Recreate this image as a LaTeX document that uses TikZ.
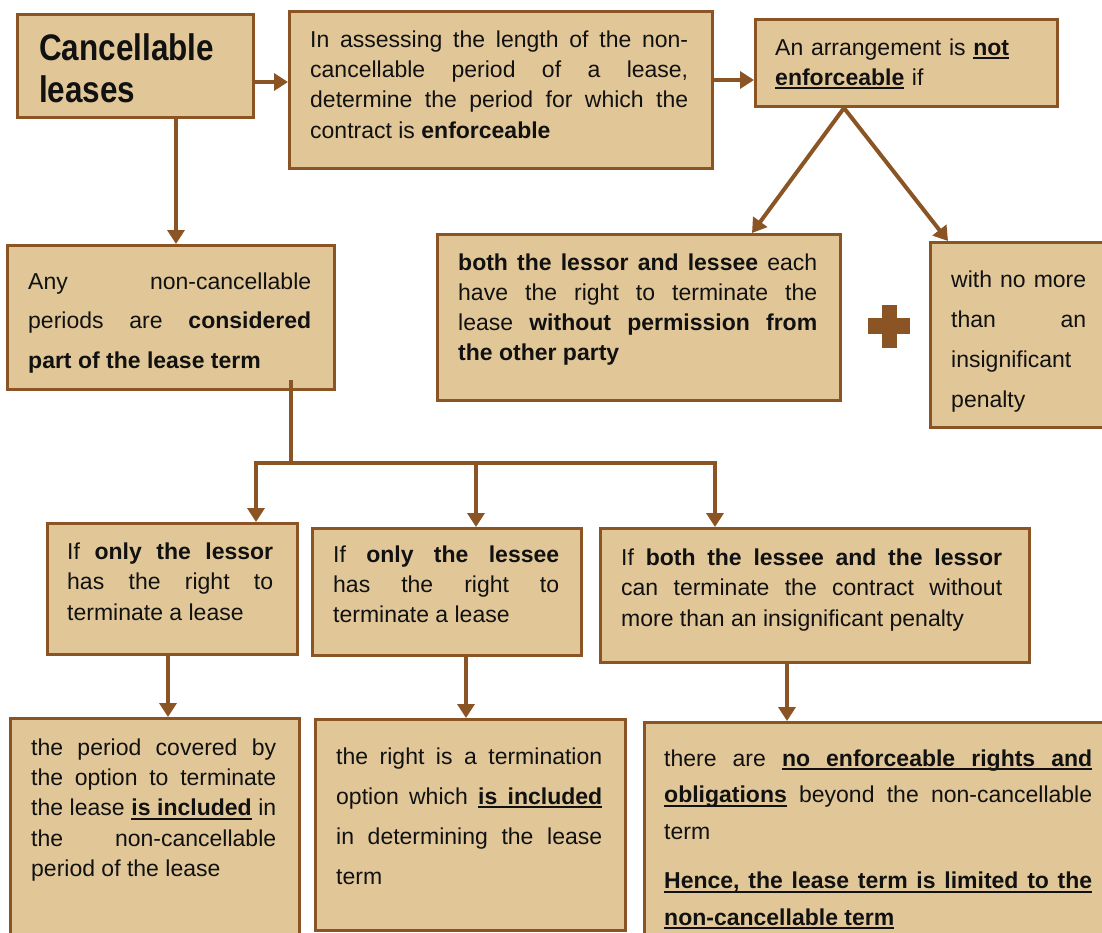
\documentclass[tikz,border=0pt]{standalone}
\usepackage{fontspec}
\setmainfont{Liberation Sans}
\newfontfamily\titlefont{Liberation Sans}[FakeStretch=0.85]
\usetikzlibrary{arrows.meta}

\definecolor{tan}{HTML}{E1C797}
\definecolor{brown}{HTML}{8B5424}
\definecolor{ink}{HTML}{111111}

% underlined word, and an underlined stretchable interword space
\newcommand\ulw[1]{\leavevmode\setbox0\hbox{#1}\rlap{\rule[-4pt]{\wd0}{1.8pt}}\box0}
\newcommand\ulsp{\nobreak\leaders\hrule height -2.2pt depth 4pt\hskip\fontdimen2\font plus\fontdimen3\font minus\fontdimen4\font\relax}

\tikzset{
  leasebox/.style={draw=brown, fill=tan, line width=3pt, inner sep=0pt, anchor=north west},
  conn/.style={draw=brown, line width=4pt, -{Triangle[width=17pt,length=14pt]}},
  link/.style={draw=brown, line width=4pt},
  txt/.style={anchor=north west, inner sep=0pt, text=ink}
}

% name, left, first baseline, width, baselineskip, text
\newcommand\boxtext[6]{%
  \node[txt, align=justify, text width=#4pt, font=\fontsize{23}{#5}\selectfont]
    (#1) at (#2,{#3-0.7*#5}) {\strut #6};}

\begin{document}
\hyphenpenalty=10000 \exhyphenpenalty=10000 \tolerance=10000
\hbadness=10000 \hfuzz=20pt \parindent=0pt
\begin{tikzpicture}[x=1pt, y=-1pt]
\useasboundingbox (0,0) rectangle (1102,932);
\clip (0,0) rectangle (1102,932);

% boxes
\node[leasebox, minimum width=236pt, minimum height=103pt] (A) at (16,13) {};
\node[leasebox, minimum width=423pt, minimum height=157pt] (B) at (288,10) {};
\node[leasebox, minimum width=302pt, minimum height=87pt]  (C) at (754,18) {};
\node[leasebox, minimum width=403pt, minimum height=166pt] (D) at (436,233) {};
\node[leasebox, minimum width=200pt, minimum height=185pt] (E) at (929,241) {};
\node[leasebox, minimum width=327pt, minimum height=144pt] (F) at (6,244) {};
\node[leasebox, minimum width=250pt, minimum height=131pt] (G) at (46,522) {};
\node[leasebox, minimum width=269pt, minimum height=127pt] (H) at (311,527) {};
\node[leasebox, minimum width=429pt, minimum height=134pt] (I) at (599,527) {};
\node[leasebox, minimum width=289pt, minimum height=240pt] (K) at (9,717) {};
\node[leasebox, minimum width=310pt, minimum height=211pt] (L) at (314,718) {};
\node[leasebox, minimum width=480pt, minimum height=240pt] (J) at (643,721) {};

% plus sign between the two conditions
\fill[brown] (881.5,305) rectangle (896.5,348);
\fill[brown] (868,318) rectangle (910,334);

% connectors
\coordinate (ab) at (0,82);
\coordinate (bc) at (0,80);
\coordinate (cfork) at (844,0);
\coordinate (dtip) at (752,0);
\coordinate (etip) at (948,0);
\coordinate (af) at (176,0);
\draw[conn] (A.east |- ab) -- (B.west |- ab);
\draw[conn] (B.east |- bc) -- (C.west |- bc);
\draw[conn] (C.south -| cfork) -- (D.north -| dtip);
\draw[conn] (C.south -| cfork) -- (E.north -| etip);
\draw[conn] (A.south -| af) -- (F.north -| af);

\coordinate (busF) at (291,463);
\coordinate (busL) at (256,463);
\coordinate (busM) at (476,463);
\coordinate (busR) at (715,463);
\coordinate (fout) at ([yshift=11pt]F.south);
\draw[link] (fout -| busF) -- (busF);
\draw[conn] (busM) -- (busL) -- (G.north -| busL);
\draw[conn] (busM) -- (busR) -- (I.north -| busR);
\draw[conn] (busM) -- (H.north -| busM);

\coordinate (gk) at (168,0);
\coordinate (hl) at (466,0);
\coordinate (ij) at (787,0);
\draw[conn] (G.south -| gk) -- (K.north -| gk);
\draw[conn] (H.south -| hl) -- (L.north -| hl);
\draw[conn] (I.south -| ij) -- (J.north -| ij);

% texts
\node[txt, text width=210pt, font=\titlefont\fontsize{37}{42}\selectfont\bfseries]
  (At) at (39,30.6) {\strut Cancellable\newline leases};

\boxtext{Bt}{310}{47}{378}{30.3}{In assessing the length of the non-\linebreak
  cancellable period of a lease,\linebreak
  determine the period for which the\linebreak
  contract is \textbf{enforceable}}

\node[txt, text width=270pt, font=\fontsize{23}{30}\selectfont]
  (Ct) at (775,34) {\strut An arrangement is \textbf{\ulw{not}}\newline
  \textbf{\ulw{enforceable}} if};

\boxtext{Dt}{458}{270}{359}{30}{\textbf{both the lessor and lessee} each\linebreak
  have the right to terminate the\linebreak
  lease \textbf{without permission from}\linebreak
  \textbf{the other party}}

\boxtext{Et}{951}{287}{135}{40}{with no more\linebreak
  than an\linebreak
  insignificant\linebreak
  penalty}

\boxtext{Ft}{28}{289}{283}{39.5}{Any non-cancellable\linebreak
  periods are \textbf{considered}\linebreak
  \textbf{part of the lease term}}

\boxtext{Gt}{67}{559}{206}{30.5}{If \textbf{only the lessor}\linebreak
  has the right to\linebreak
  terminate a lease}

\boxtext{Ht}{333}{562}{226}{30}{If \textbf{only the lessee}\linebreak
  has the right to\linebreak
  terminate a lease}

\boxtext{It}{621}{565}{381}{30.5}{If \textbf{both the lessee and the lessor}\linebreak
  can terminate the contract without\linebreak
  more than an insignificant penalty}

\boxtext{Kt}{31}{755}{245}{30.3}{the period covered by\linebreak
  the option to terminate\linebreak
  the lease \textbf{\ulw{is}\ulsp\ulw{included}} in\linebreak
  the non-cancellable\linebreak
  period of the lease}

\boxtext{Lt}{336}{764}{266}{40}{the right is a termination\linebreak
  option which \textbf{\ulw{is}\ulsp\ulw{included}}\linebreak
  in determining the lease\linebreak
  term}

\boxtext{Jt}{664}{766}{428}{36.5}{there are \textbf{\ulw{no}\ulsp\ulw{enforceable}\ulsp\ulw{rights}\ulsp\ulw{and}}\linebreak
  \textbf{\ulw{obligations}} beyond the non-cancellable\linebreak
  term\par\vspace{13pt}
  \textbf{\ulw{Hence,}\ulsp\ulw{the}\ulsp\ulw{lease}\ulsp\ulw{term}\ulsp\ulw{is}\ulsp\ulw{limited}\ulsp\ulw{to}\ulsp\ulw{the}}\linebreak
  \textbf{\ulw{non-cancellable}\ulsp\ulw{term}}}
\end{tikzpicture}
\end{document}
